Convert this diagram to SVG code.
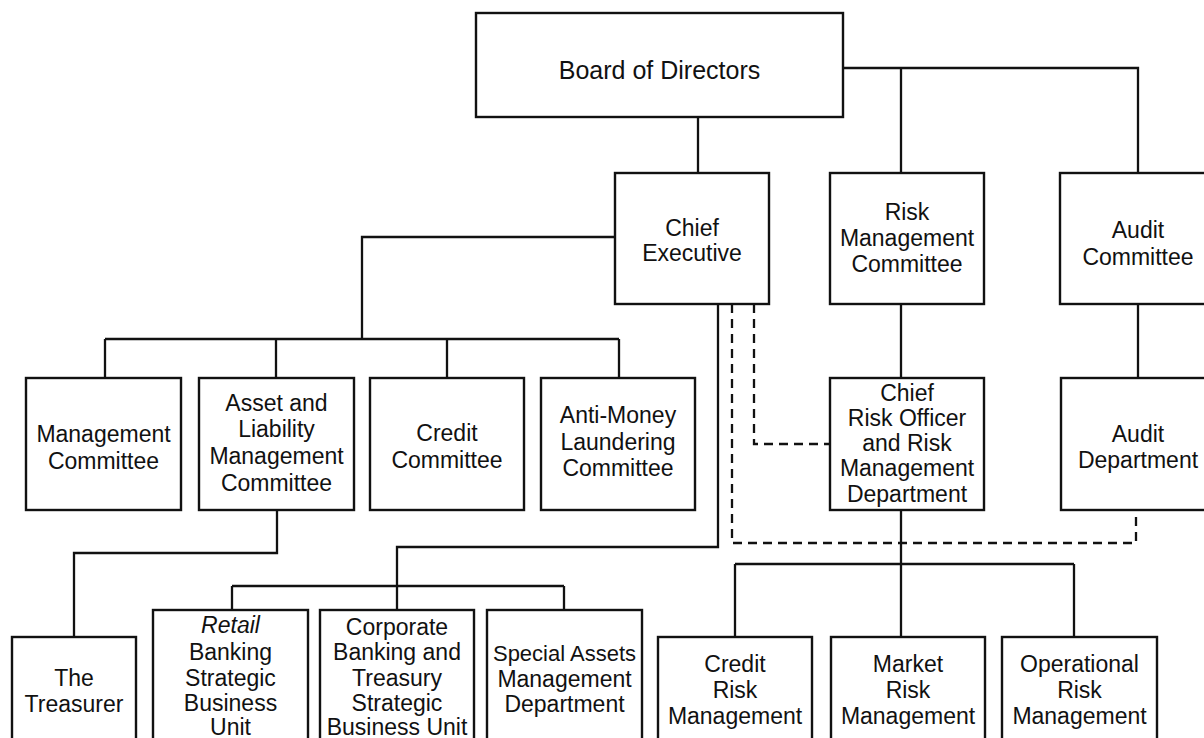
<svg xmlns="http://www.w3.org/2000/svg" width="1204" height="738" viewBox="0 0 1204 738">
<style>
  .box { fill: #fff; stroke: #111; stroke-width: 2.4; }
  .ln { fill: none; stroke: #111; stroke-width: 2.3; }
  .dash { fill: none; stroke: #111; stroke-width: 2.3; stroke-dasharray: 9 6; }
  text { font-family: "Liberation Sans", Arial, Helvetica, sans-serif; font-size: 23px; fill: #111; text-anchor: middle; }
  .it { font-style: italic; }
</style>
<rect width="1204" height="738" fill="#fff"/>
<g id="connectors">
  <path class="ln" d="M698 117 V173"/>
  <path class="ln" d="M843 68 H1138 V173 M901 68 V173"/>
  <path class="ln" d="M615 237 H362 V339 M105 339 H619 M105 339 V378 M276 339 V378 M447 339 V378 M619 339 V378"/>
  <path class="ln" d="M277 510 V553 H74 V637"/>
  <path class="ln" d="M718 304 V547 H397 V610 M232 586 H564 M232 586 V610 M564 586 V610"/>
  <path class="ln" d="M901 304 V378 M901 510 V637 M735 564 H1074 M735 564 V637 M1074 564 V637"/>
  <path class="ln" d="M1138 304 V378"/>
  <path class="dash" d="M754 304 V444 H830"/>
  <path class="dash" d="M732 304 V543 H1136 V510"/>
</g>
<g id="board"><rect class="box" x="476" y="13" width="367" height="104"/><text x="659.5" y="79" style="font-size:25px">Board of Directors</text></g>
<g id="ceo"><rect class="box" x="615" y="173" width="154" height="131"/><text x="692" y="235.5">Chief</text><text x="692" y="260.5">Executive</text></g>
<g id="risk-committee"><rect class="box" x="830" y="173" width="154" height="131"/><text x="907" y="219.5">Risk</text><text x="907" y="245.5">Management</text><text x="907" y="271.5">Committee</text></g>
<g id="audit-committee"><rect class="box" x="1060" y="173" width="160" height="131"/><text x="1138" y="237.5">Audit</text><text x="1138" y="264.5">Committee</text></g>
<g id="management-committee"><rect class="box" x="26" y="378" width="155" height="132"/><text x="103.5" y="441.5">Management</text><text x="103.5" y="468.5">Committee</text></g>
<g id="alco"><rect class="box" x="199" y="378" width="155" height="132"/><text x="276.5" y="410.5">Asset and</text><text x="276.5" y="436.5">Liability</text><text x="276.5" y="463.5">Management</text><text x="276.5" y="490.5">Committee</text></g>
<g id="credit-committee"><rect class="box" x="370" y="378" width="154" height="132"/><text x="447" y="440.5">Credit</text><text x="447" y="467.5">Committee</text></g>
<g id="aml-committee"><rect class="box" x="541" y="378" width="154" height="132"/><text x="618" y="423">Anti-Money</text><text x="618" y="449.5">Laundering</text><text x="618" y="476">Committee</text></g>
<g id="cro"><rect class="box" x="830" y="378" width="154" height="132"/><text x="907" y="400.5">Chief</text><text x="907" y="425.5">Risk Officer</text><text x="907" y="451">and Risk</text><text x="907" y="476">Management</text><text x="907" y="501.5">Department</text></g>
<g id="audit-department"><rect class="box" x="1061" y="378" width="160" height="132"/><text x="1138" y="441.5">Audit</text><text x="1138" y="467.5">Department</text></g>
<g id="treasurer"><rect class="box" x="12" y="637" width="124" height="130"/><text x="74" y="685.5">The</text><text x="74" y="711.5">Treasurer</text></g>
<g id="retail"><rect class="box" x="153" y="610" width="155" height="150"/><text x="230.5" y="632.5" class="it">Retail</text><text x="230.5" y="659.5">Banking</text><text x="230.5" y="685.5">Strategic</text><text x="230.5" y="710.5">Business</text><text x="230.5" y="735">Unit</text></g>
<g id="corporate"><rect class="box" x="320" y="610" width="154" height="150"/><text x="397" y="634.5">Corporate</text><text x="397" y="659.5">Banking and</text><text x="397" y="685.5">Treasury</text><text x="397" y="710.5">Strategic</text><text x="397" y="735">Business Unit</text></g>
<g id="special-assets"><rect class="box" x="487" y="610" width="155" height="150"/><text x="564.5" y="660.5" style="font-size:22px">Special Assets</text><text x="564.5" y="686.5">Management</text><text x="564.5" y="711.5">Department</text></g>
<g id="credit-risk"><rect class="box" x="658" y="637" width="154" height="130"/><text x="735" y="671.5">Credit</text><text x="735" y="697.5">Risk</text><text x="735" y="723.5">Management</text></g>
<g id="market-risk"><rect class="box" x="831" y="637" width="154" height="130"/><text x="908" y="671.5">Market</text><text x="908" y="697.5">Risk</text><text x="908" y="723.5">Management</text></g>
<g id="operational-risk"><rect class="box" x="1002" y="637" width="155" height="130"/><text x="1079.5" y="671.5">Operational</text><text x="1079.5" y="697.5">Risk</text><text x="1079.5" y="723.5">Management</text></g>
</svg>
